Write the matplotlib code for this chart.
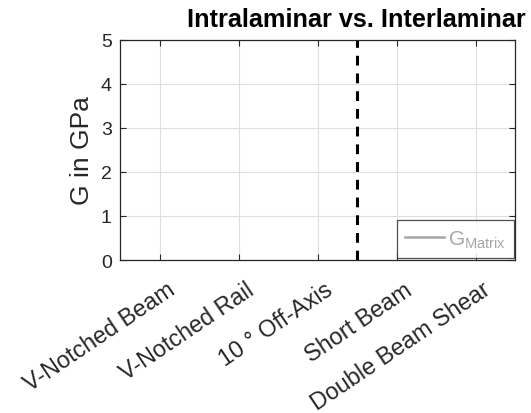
import matplotlib
matplotlib.use("Agg")
from matplotlib import pyplot as plt
from matplotlib.transforms import ScaledTranslation, blended_transform_factory

plt.rcParams['font.family'] = ['Liberation Sans', 'DejaVu Sans']
plt.rcParams['mathtext.fontset'] = 'custom'
plt.rcParams['mathtext.rm'] = 'Liberation Sans'

categories = ["V-Notched Beam", "V-Notched Rail", "10 \u00b0 Off-Axis", "Short Beam", "Double Beam Shear"]
positions = [1, 2, 3, 4, 5]
y_ticks = [0, 1, 2, 3, 4, 5]
g_matrix = []  # no values plotted in the reference
divider = 3.5

W, H = 531, 414
fig = plt.figure(figsize=(W / 100, H / 100), dpi=100)
ax = fig.add_axes([120 / W, 1 - 261 / H, 395 / W, 220.5 / H])

ax.plot(positions[:len(g_matrix)], g_matrix, color="#a6a6a6", linewidth=1.8,
        label="G$_{\\mathrm{Matrix}}$")
ax.axvline(divider, color="black", linestyle="--", linewidth=2.2, dashes=(3.2, 2.6))

ax.set_xlim(0.5, 5.5)
ax.set_ylim(0, 5)
ax.set_xticks(positions)
ax.set_xticklabels([])
# rotated category labels, anchored right of each tick like the MATLAB output
lab_tr = blended_transform_factory(ax.transData, ax.transAxes) + \
    ScaledTranslation(13 / 100, -27 / 100, fig.dpi_scale_trans)
for p, name in zip(positions, categories):
    ax.text(p, 0, name, transform=lab_tr, rotation=34, ha="right", va="center",
            rotation_mode="anchor", fontsize=16.8, color="#262626")

ax.set_yticks(y_ticks)
ax.tick_params(axis="both", direction="in", length=4, colors="#262626",
               top=True, right=True)
ax.tick_params(axis="y", labelsize=14, pad=6)
ax.set_ylabel("G in GPa", fontsize=19, color="#262626", labelpad=5)
ax.grid(True, color="#dedede", linewidth=0.8)
ax.set_axisbelow(True)
for s in ax.spines.values():
    s.set_color("#262626")
    s.set_linewidth(0.9)

fig.text(356 / W, 1 - 20 / H, "Intralaminar vs. Interlaminar", ha="center", va="center",
         fontsize=18.2, fontweight="bold", color="black")

leg = ax.legend(loc="lower right", bbox_to_anchor=(514 / W, 1 - 259 / H),
                bbox_transform=fig.transFigure, fontsize=15, frameon=True, fancybox=False,
                borderaxespad=0, handlelength=1.9, handletextpad=0.15, borderpad=0.4)
leg.get_frame().set_edgecolor("#262626")
leg.get_frame().set_linewidth(0.9)
for t in leg.get_texts():
    t.set_color("#a6a6a6")

fig.savefig("out.png", dpi=100)
